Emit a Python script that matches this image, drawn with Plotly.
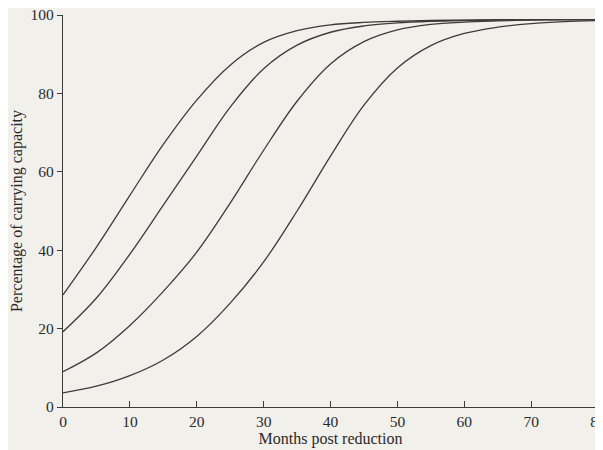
import plotly.graph_objects as go

months = [0, 5, 10, 15, 20, 25, 30, 35, 40, 45, 50, 55, 60, 65, 70, 75, 80]

curve_a = [28.6, 40.8, 54.0, 67.0, 78.3, 87.2, 93.0, 96.0, 97.5, 98.1, 98.4, 98.6, 98.7, 98.8, 98.8, 98.8, 98.8]
curve_b = [19.2, 27.8, 39.0, 51.5, 64.0, 76.5, 86.3, 92.3, 95.6, 97.2, 98.0, 98.4, 98.6, 98.7, 98.8, 98.8, 98.8]
curve_c = [9.0, 13.8, 20.8, 29.5, 39.5, 52.0, 65.5, 78.0, 87.5, 93.2, 96.2, 97.6, 98.2, 98.5, 98.7, 98.8, 98.8]
curve_d = [3.6, 5.3, 8.0, 12.0, 18.0, 26.5, 37.0, 50.0, 64.0, 77.0, 86.5, 92.2, 95.3, 96.9, 97.8, 98.3, 98.6]

x_ticks = [0, 10, 20, 30, 40, 50, 60, 70, 80]
y_ticks = [0, 20, 40, 60, 80, 100]

line_color = "#3c3c3c"
bg = "#f2f0ea"
font_family = "Liberation Serif, Times New Roman, serif"

fig = go.Figure()
for ys in [curve_a, curve_b, curve_c, curve_d]:
    fig.add_trace(go.Scatter(
        x=months, y=ys, mode="lines",
        line=dict(color=line_color, width=1.3, shape="spline", smoothing=1.0),
        showlegend=False, hoverinfo="skip",
    ))

# page body has a default 8px margin; margins compensate so the plot area
# lands at x 63..598, y 15..407 in the window
fig.update_layout(
    width=603, height=450,
    margin=dict(l=55, r=13, t=7, b=51),
    paper_bgcolor=bg, plot_bgcolor=bg,
    font=dict(family=font_family, size=15, color="#2a2a2a"),
    showlegend=False,
)

fig.update_xaxes(
    range=[0, 80], tickvals=x_ticks, ticktext=[str(v) for v in x_ticks],
    showgrid=False, zeroline=False, automargin=False,
    showline=True, linecolor=line_color, linewidth=1.3,
    ticks="inside", ticklen=6, tickwidth=1, tickcolor=line_color,
    tickfont=dict(family=font_family, size=15.5),
    ticklabeloverflow="allow",
    title=dict(text="Months post reduction", font=dict(family=font_family, size=16), standoff=0),
)
fig.update_yaxes(
    range=[0, 100], tickvals=y_ticks, ticktext=[str(v) for v in y_ticks],
    showgrid=False, zeroline=False, automargin=False,
    showline=True, linecolor=line_color, linewidth=1.3,
    ticks="outside", ticklen=5, tickwidth=1, tickcolor=line_color,
    tickfont=dict(family=font_family, size=15.5),
    ticklabeloverflow="allow",
    title=dict(text="Percentage of carrying capacity", font=dict(family=font_family, size=16), standoff=4),
)

fig.write_html("out.html")
